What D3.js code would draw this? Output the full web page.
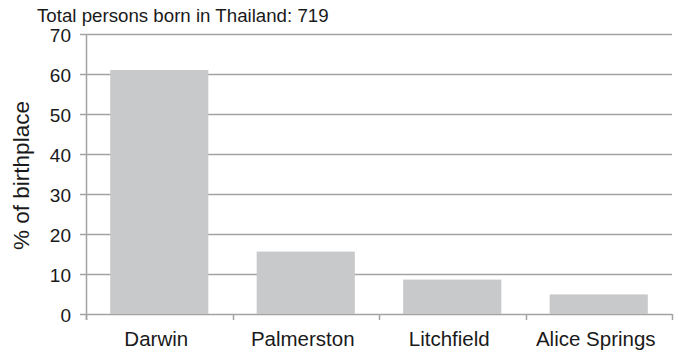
<!DOCTYPE html>
<html><head><meta charset="utf-8">
<script src="https://cdn.jsdelivr.net/npm/d3@7"></script>
<style>body{margin:0;background:#fff}svg{display:block}text{font-family:"Liberation Sans",Arial,sans-serif;fill:#1a1a1a}</style>
</head><body>
<script>
const categories = ["Darwin", "Palmerston", "Litchfield", "Alice Springs"];
const values = [61.0, 15.6, 8.6, 4.9];
const yTicks = [0, 10, 20, 30, 40, 50, 60, 70];
const titleText = "Total persons born in Thailand: 719";
const yTitle = "% of birthplace";

const W = 678, H = 352;
const m = {l: 86, r: 6, t: 34, b: 38};
const svg = d3.select("body").append("svg").attr("width", W).attr("height", H);
const x = d3.scaleBand().domain(categories).range([m.l, W - m.r]).paddingInner(0.33).paddingOuter(0.165);
const y = d3.scaleLinear().domain([0, 70]).range([H - m.b, m.t]);
const grid = "#a3a3a3";

// gridlines
svg.append("g").selectAll("line").data(yTicks).join("line")
  .attr("x1", m.l - 6).attr("x2", W - m.r)
  .attr("y1", d => Math.round(y(d)) + 0.5).attr("y2", d => Math.round(y(d)) + 0.5)
  .attr("stroke", grid).attr("stroke-width", 1.5);

// bars
svg.append("g").selectAll("rect").data(values).join("rect")
  .attr("x", (d, i) => x(categories[i])).attr("width", x.bandwidth())
  .attr("y", d => y(d)).attr("height", d => y(0) - y(d))
  .attr("fill", "#c8c9cb");

// y axis line
svg.append("line").attr("x1", m.l + 0.5).attr("x2", m.l + 0.5)
  .attr("y1", y(70)).attr("y2", y(0) + 6).attr("stroke", grid).attr("stroke-width", 1.5);
// x axis ticks at category boundaries
const step = x.step();
const bounds = d3.range(categories.length + 1).map(i => m.l + i * step);
svg.append("g").selectAll("line").data(bounds).join("line")
  .attr("x1", d => Math.round(d) + 0.5).attr("x2", d => Math.round(d) + 0.5)
  .attr("y1", y(0)).attr("y2", y(0) + 6).attr("stroke", grid).attr("stroke-width", 1.5);

// y tick labels
svg.append("g").selectAll("text").data(yTicks).join("text")
  .attr("x", 71).attr("y", d => y(d) + 7.5).attr("text-anchor", "end")
  .attr("font-size", 19).text(d => d);

// x labels
svg.append("g").selectAll("text").data(categories).join("text")
  .attr("x", d => x(d) + x.bandwidth() / 2 - 3).attr("y", 346).attr("text-anchor", "middle")
  .attr("font-size", 20.5).text(d => d);

// title
svg.append("text").attr("x", 37).attr("y", 21.5).attr("font-size", 18.7).text(titleText);

// y title
svg.append("text").attr("transform", `translate(29,175.5) rotate(-90)`)
  .attr("text-anchor", "middle").attr("font-size", 22.5).text(yTitle);
</script>
</body></html>
